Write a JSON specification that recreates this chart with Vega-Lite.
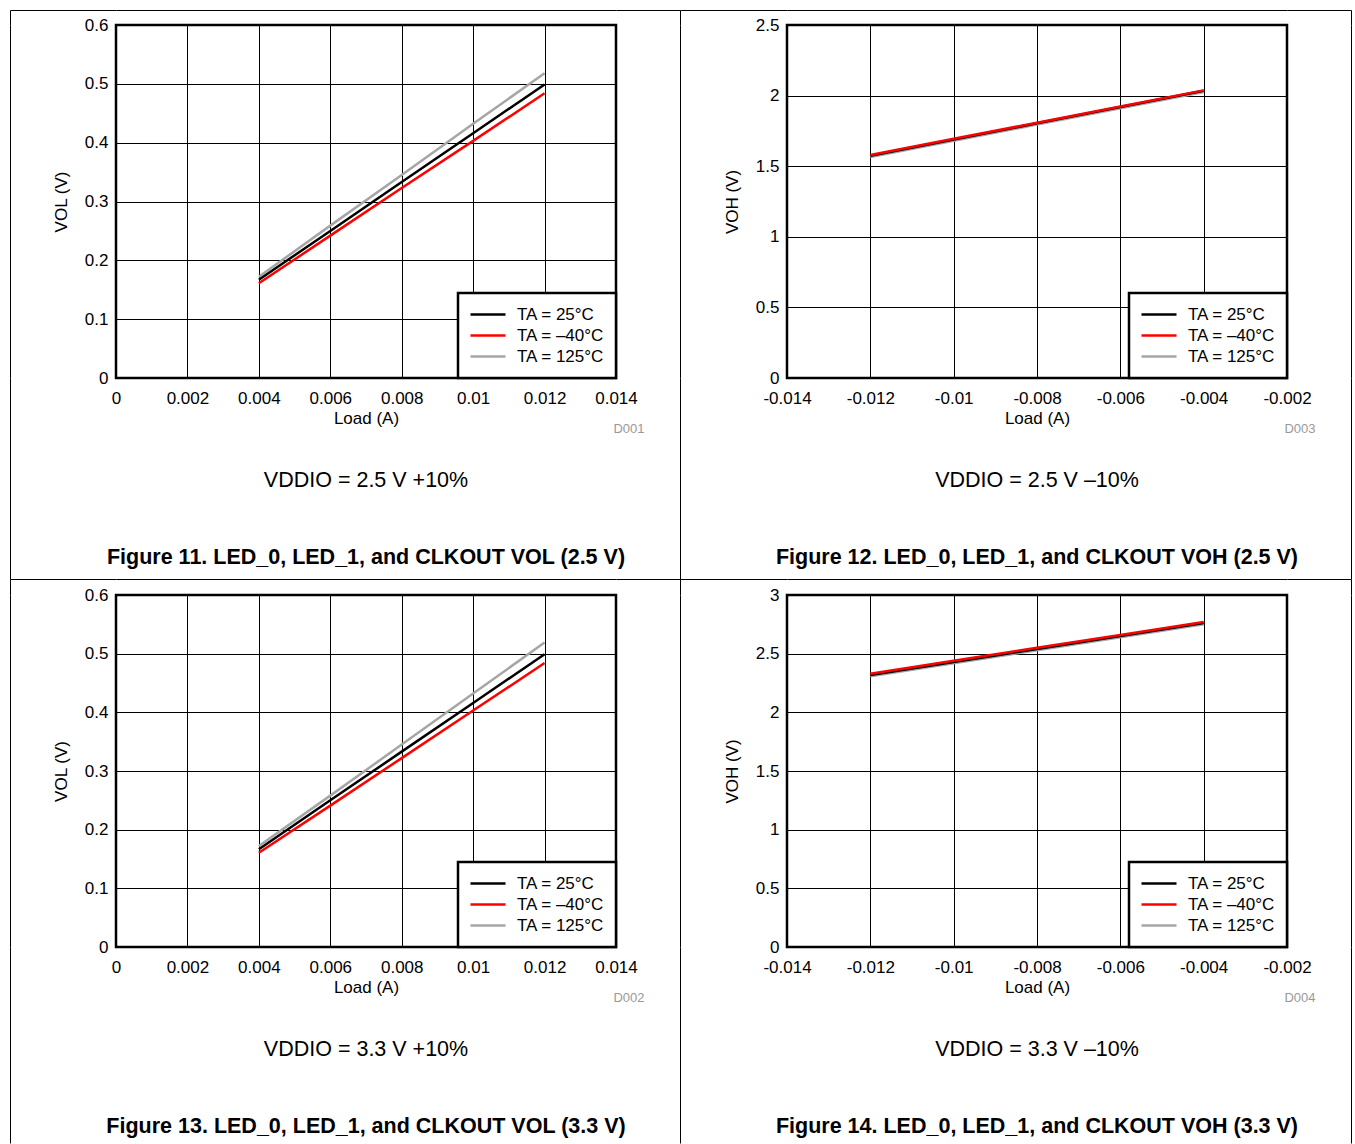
{
"$schema": "https://vega.github.io/schema/vega-lite/v6.json",
"padding": {"left": 9, "top": 9, "right": 2, "bottom": 0},
"background": "white",
"columns": 6,
"spacing": 0,
"bounds": "flush",
"align": "each",
"resolve": {"scale": {"color": "independent"}, "legend": {"color": "independent"}},
"config": {
  "font": "Liberation Sans",
  "view": {"stroke": null},
  "axis": {"labelFont": "Liberation Sans", "labelFontSize": 17, "labelColor": "black", "titleFont": "Liberation Sans", "titleFontSize": 17, "titleFontWeight": "normal", "titleColor": "black", "grid": true, "gridColor": "black", "gridWidth": 1, "gridOpacity": 1, "domain": false, "ticks": false, "labelPadding": 8, "labelFlush": false, "labelOverlap": false},
  "axisX": {"labelPadding": 12},
  "legend": {"orient": "bottom-right", "offset": 0, "labelFont": "Liberation Sans", "labelFontSize": 17, "labelColor": "black", "symbolType": "stroke", "symbolSize": 1225, "symbolStrokeWidth": 2.5, "strokeColor": "black", "strokeWidth": 2.5, "fillColor": "white", "padding": 11, "rowPadding": 0, "clipHeight": 21, "labelOffset": 10},
  "title": {"font": "Liberation Sans", "fontSize": 21.5, "fontWeight": "normal", "color": "black", "subtitleFont": "Liberation Sans", "subtitleFontSize": 21.5, "subtitleFontWeight": "bold", "subtitleColor": "black", "orient": "bottom", "frame": "group", "anchor": "middle", "offset": 35, "subtitlePadding": 55}
},
"concat": [
  {"width": 106, "height": 15, "data": {"values": []}, "mark": {"type": "point", "opacity": 0}, "view": {"stroke": "black", "strokeWidth": 1, "strokeDash": [121, 121], "strokeDashOffset": 15}},
  {"width": 500, "height": 15, "data": {"values": []}, "mark": {"type": "point", "opacity": 0}, "view": {"stroke": "black", "strokeWidth": 1, "strokeDash": [500, 530], "strokeDashOffset": 0}},
  {"width": 64, "height": 15, "data": {"values": []}, "mark": {"type": "point", "opacity": 0}, "view": {"stroke": "black", "strokeWidth": 1, "strokeDash": [64, 94], "strokeDashOffset": 0}},
  {"width": 107, "height": 15, "data": {"values": []}, "mark": {"type": "point", "opacity": 0}, "view": {"stroke": "black", "strokeWidth": 1, "strokeDash": [122, 122], "strokeDashOffset": 15}},
  {"width": 500, "height": 15, "data": {"values": []}, "mark": {"type": "point", "opacity": 0}, "view": {"stroke": "black", "strokeWidth": 1, "strokeDash": [500, 530], "strokeDashOffset": 0}},
  {"width": 64, "height": 15, "data": {"values": []}, "mark": {"type": "point", "opacity": 0}, "view": {"stroke": "black", "strokeWidth": 1, "strokeDash": [79, 79], "strokeDashOffset": 0}},

  {"width": 106, "height": 353, "data": {"values": []}, "mark": {"type": "point", "opacity": 0}, "view": {"stroke": "black", "strokeWidth": 1, "strokeDash": [353, 565], "strokeDashOffset": 353}},
  {
    "width": 500, "height": 353,
    "view": {"stroke": "black", "strokeWidth": 2.5},
    "title": {"text": "VDDIO = 2.5 V +10%", "subtitle": "Figure 11. LED_0, LED_1, and CLKOUT VOL (2.5 V)"},
    "data": {"values": [
      {"temp": "TA = 125°C", "load": 0.004, "v": 0.172}, {"temp": "TA = 125°C", "load": 0.006, "v": 0.259}, {"temp": "TA = 125°C", "load": 0.008, "v": 0.345}, {"temp": "TA = 125°C", "load": 0.010, "v": 0.432}, {"temp": "TA = 125°C", "load": 0.012, "v": 0.518},
      {"temp": "TA = 25°C", "load": 0.004, "v": 0.167}, {"temp": "TA = 25°C", "load": 0.006, "v": 0.250}, {"temp": "TA = 25°C", "load": 0.008, "v": 0.333}, {"temp": "TA = 25°C", "load": 0.010, "v": 0.416}, {"temp": "TA = 25°C", "load": 0.012, "v": 0.499},
      {"temp": "TA = –40°C", "load": 0.004, "v": 0.161}, {"temp": "TA = –40°C", "load": 0.006, "v": 0.242}, {"temp": "TA = –40°C", "load": 0.008, "v": 0.323}, {"temp": "TA = –40°C", "load": 0.010, "v": 0.403}, {"temp": "TA = –40°C", "load": 0.012, "v": 0.484}
    ]},
    "layer": [
      {"mark": {"type": "line", "strokeWidth": 2.5},
       "encoding": {
        "x": {"field": "load", "type": "quantitative", "scale": {"domain": [0, 0.014]}, "axis": {"values": [0, 0.002, 0.004, 0.006, 0.008, 0.01, 0.012, 0.014], "title": "Load (A)", "titlePadding": 4, "labelExpr": "replace(format(datum.value, '~g'), '−', '-')"}},
        "y": {"field": "v", "type": "quantitative", "scale": {"domain": [0, 0.6]}, "axis": {"values": [0, 0.1, 0.2, 0.3, 0.4, 0.5, 0.6], "title": "VOL (V)", "titlePadding": 14, "labelExpr": "format(datum.value, '~g')"}},
        "color": {"field": "temp", "type": "nominal", "scale": {"domain": ["TA = 25°C", "TA = –40°C", "TA = 125°C"], "range": ["#000000", "#ff0000", "#a6a6a6"]}, "legend": {"title": null, "orient": "bottom-right"}}
       }},
      {"mark": {"type": "point", "opacity": 0},
       "encoding": {"x": {"field": "load", "type": "quantitative", "axis": {"orient": "bottom", "title": "D001", "labels": false, "ticks": false, "domain": false, "grid": false, "titleFontSize": 13, "titleColor": "#999999", "titleAlign": "right", "titleX": 528, "titleY": 54, "titleBaseline": "alphabetic"}}}}
    ],
    "resolve": {"axis": {"x": "independent"}}
  },
  {"width": 64, "height": 353, "data": {"values": []}, "mark": {"type": "point", "opacity": 0}},
  {"width": 107, "height": 353, "data": {"values": []}, "mark": {"type": "point", "opacity": 0}, "view": {"stroke": "black", "strokeWidth": 1, "strokeDash": [353, 567], "strokeDashOffset": 353}},
  {
    "width": 500, "height": 353,
    "view": {"stroke": "black", "strokeWidth": 2.5},
    "title": {"text": "VDDIO = 2.5 V –10%", "subtitle": "Figure 12. LED_0, LED_1, and CLKOUT VOH (2.5 V)"},
    "data": {"values": [
      {"temp": "TA = 125°C", "load": -0.012, "v": 1.565}, {"temp": "TA = 125°C", "load": -0.010, "v": 1.680}, {"temp": "TA = 125°C", "load": -0.008, "v": 1.795}, {"temp": "TA = 125°C", "load": -0.006, "v": 1.910}, {"temp": "TA = 125°C", "load": -0.004, "v": 2.025},
      {"temp": "TA = 25°C", "load": -0.012, "v": 1.574}, {"temp": "TA = 25°C", "load": -0.010, "v": 1.689}, {"temp": "TA = 25°C", "load": -0.008, "v": 1.804}, {"temp": "TA = 25°C", "load": -0.006, "v": 1.919}, {"temp": "TA = 25°C", "load": -0.004, "v": 2.034},
      {"temp": "TA = –40°C", "load": -0.012, "v": 1.579}, {"temp": "TA = –40°C", "load": -0.010, "v": 1.694}, {"temp": "TA = –40°C", "load": -0.008, "v": 1.808}, {"temp": "TA = –40°C", "load": -0.006, "v": 1.923}, {"temp": "TA = –40°C", "load": -0.004, "v": 2.037}
    ]},
    "layer": [
      {"mark": {"type": "line", "strokeWidth": 2.5},
       "encoding": {
        "x": {"field": "load", "type": "quantitative", "scale": {"domain": [-0.014, -0.002]}, "axis": {"values": [-0.014, -0.012, -0.01, -0.008, -0.006, -0.004, -0.002], "title": "Load (A)", "titlePadding": 4, "labelExpr": "replace(format(datum.value, '~g'), '−', '-')"}},
        "y": {"field": "v", "type": "quantitative", "scale": {"domain": [0, 2.5]}, "axis": {"values": [0, 0.5, 1, 1.5, 2, 2.5], "title": "VOH (V)", "titlePadding": 14, "labelExpr": "format(datum.value, '~g')"}},
        "color": {"field": "temp", "type": "nominal", "scale": {"domain": ["TA = 25°C", "TA = –40°C", "TA = 125°C"], "range": ["#000000", "#ff0000", "#a6a6a6"]}, "legend": {"title": null, "orient": "bottom-right"}}
       }},
      {"mark": {"type": "point", "opacity": 0},
       "encoding": {"x": {"field": "load", "type": "quantitative", "axis": {"orient": "bottom", "title": "D003", "labels": false, "ticks": false, "domain": false, "grid": false, "titleFontSize": 13, "titleColor": "#999999", "titleAlign": "right", "titleX": 528, "titleY": 54, "titleBaseline": "alphabetic"}}}}
    ],
    "resolve": {"axis": {"x": "independent"}}
  },
  {"width": 64, "height": 353, "data": {"values": []}, "mark": {"type": "point", "opacity": 0}, "view": {"stroke": "black", "strokeWidth": 1, "strokeDash": [353, 481], "strokeDashOffset": 770}},

  {"width": 106, "height": 201, "data": {"values": []}, "mark": {"type": "point", "opacity": 0}, "view": {"stroke": "black", "strokeWidth": 1, "strokeDash": [201, 413], "strokeDashOffset": 201}},
  {"width": 500, "height": 201, "data": {"values": []}, "mark": {"type": "point", "opacity": 0}},
  {"width": 64, "height": 201, "data": {"values": []}, "mark": {"type": "point", "opacity": 0}},
  {"width": 107, "height": 201, "data": {"values": []}, "mark": {"type": "point", "opacity": 0}, "view": {"stroke": "black", "strokeWidth": 1, "strokeDash": [201, 415], "strokeDashOffset": 201}},
  {"width": 500, "height": 201, "data": {"values": []}, "mark": {"type": "point", "opacity": 0}},
  {"width": 64, "height": 201, "data": {"values": []}, "mark": {"type": "point", "opacity": 0}, "view": {"stroke": "black", "strokeWidth": 1, "strokeDash": [201, 329], "strokeDashOffset": 466}},

  {"width": 106, "height": 16, "data": {"values": []}, "mark": {"type": "point", "opacity": 0}, "view": {"stroke": "black", "strokeWidth": 1, "strokeDash": [122, 122], "strokeDashOffset": 16}},
  {"width": 500, "height": 16, "data": {"values": []}, "mark": {"type": "point", "opacity": 0}, "view": {"stroke": "black", "strokeWidth": 1, "strokeDash": [500, 532], "strokeDashOffset": 0}},
  {"width": 64, "height": 16, "data": {"values": []}, "mark": {"type": "point", "opacity": 0}, "view": {"stroke": "black", "strokeWidth": 1, "strokeDash": [64, 96], "strokeDashOffset": 0}},
  {"width": 107, "height": 16, "data": {"values": []}, "mark": {"type": "point", "opacity": 0}, "view": {"stroke": "black", "strokeWidth": 1, "strokeDash": [123, 123], "strokeDashOffset": 16}},
  {"width": 500, "height": 16, "data": {"values": []}, "mark": {"type": "point", "opacity": 0}, "view": {"stroke": "black", "strokeWidth": 1, "strokeDash": [500, 532], "strokeDashOffset": 0}},
  {"width": 64, "height": 16, "data": {"values": []}, "mark": {"type": "point", "opacity": 0}, "view": {"stroke": "black", "strokeWidth": 1, "strokeDash": [80, 80], "strokeDashOffset": 0}},

  {"width": 106, "height": 352, "data": {"values": []}, "mark": {"type": "point", "opacity": 0}, "view": {"stroke": "black", "strokeWidth": 1, "strokeDash": [352, 564], "strokeDashOffset": 352}},
  {
    "width": 500, "height": 352,
    "view": {"stroke": "black", "strokeWidth": 2.5},
    "title": {"text": "VDDIO = 3.3 V +10%", "subtitle": "Figure 13. LED_0, LED_1, and CLKOUT VOL (3.3 V)"},
    "data": {"values": [
      {"temp": "TA = 125°C", "load": 0.004, "v": 0.172}, {"temp": "TA = 125°C", "load": 0.006, "v": 0.258}, {"temp": "TA = 125°C", "load": 0.008, "v": 0.345}, {"temp": "TA = 125°C", "load": 0.010, "v": 0.432}, {"temp": "TA = 125°C", "load": 0.012, "v": 0.519},
      {"temp": "TA = 25°C", "load": 0.004, "v": 0.1665}, {"temp": "TA = 25°C", "load": 0.006, "v": 0.250}, {"temp": "TA = 25°C", "load": 0.008, "v": 0.333}, {"temp": "TA = 25°C", "load": 0.010, "v": 0.416}, {"temp": "TA = 25°C", "load": 0.012, "v": 0.499},
      {"temp": "TA = –40°C", "load": 0.004, "v": 0.1607}, {"temp": "TA = –40°C", "load": 0.006, "v": 0.241}, {"temp": "TA = –40°C", "load": 0.008, "v": 0.322}, {"temp": "TA = –40°C", "load": 0.010, "v": 0.403}, {"temp": "TA = –40°C", "load": 0.012, "v": 0.484}
    ]},
    "layer": [
      {"mark": {"type": "line", "strokeWidth": 2.5},
       "encoding": {
        "x": {"field": "load", "type": "quantitative", "scale": {"domain": [0, 0.014]}, "axis": {"values": [0, 0.002, 0.004, 0.006, 0.008, 0.01, 0.012, 0.014], "title": "Load (A)", "titlePadding": 4, "labelExpr": "replace(format(datum.value, '~g'), '−', '-')"}},
        "y": {"field": "v", "type": "quantitative", "scale": {"domain": [0, 0.6]}, "axis": {"values": [0, 0.1, 0.2, 0.3, 0.4, 0.5, 0.6], "title": "VOL (V)", "titlePadding": 14, "labelExpr": "format(datum.value, '~g')"}},
        "color": {"field": "temp", "type": "nominal", "scale": {"domain": ["TA = 25°C", "TA = –40°C", "TA = 125°C"], "range": ["#000000", "#ff0000", "#a6a6a6"]}, "legend": {"title": null, "orient": "bottom-right"}}
       }},
      {"mark": {"type": "point", "opacity": 0},
       "encoding": {"x": {"field": "load", "type": "quantitative", "axis": {"orient": "bottom", "title": "D002", "labels": false, "ticks": false, "domain": false, "grid": false, "titleFontSize": 13, "titleColor": "#999999", "titleAlign": "right", "titleX": 528, "titleY": 54, "titleBaseline": "alphabetic"}}}}
    ],
    "resolve": {"axis": {"x": "independent"}}
  },
  {"width": 64, "height": 352, "data": {"values": []}, "mark": {"type": "point", "opacity": 0}},
  {"width": 107, "height": 352, "data": {"values": []}, "mark": {"type": "point", "opacity": 0}, "view": {"stroke": "black", "strokeWidth": 1, "strokeDash": [352, 566], "strokeDashOffset": 352}},
  {
    "width": 500, "height": 352,
    "view": {"stroke": "black", "strokeWidth": 2.5},
    "title": {"text": "VDDIO = 3.3 V –10%", "subtitle": "Figure 14. LED_0, LED_1, and CLKOUT VOH (3.3 V)"},
    "data": {"values": [
      {"temp": "TA = 125°C", "load": -0.012, "v": 2.307}, {"temp": "TA = 125°C", "load": -0.010, "v": 2.418}, {"temp": "TA = 125°C", "load": -0.008, "v": 2.529}, {"temp": "TA = 125°C", "load": -0.006, "v": 2.640}, {"temp": "TA = 125°C", "load": -0.004, "v": 2.751},
      {"temp": "TA = 25°C", "load": -0.012, "v": 2.318}, {"temp": "TA = 25°C", "load": -0.010, "v": 2.429}, {"temp": "TA = 25°C", "load": -0.008, "v": 2.540}, {"temp": "TA = 25°C", "load": -0.006, "v": 2.651}, {"temp": "TA = 25°C", "load": -0.004, "v": 2.761},
      {"temp": "TA = –40°C", "load": -0.012, "v": 2.329}, {"temp": "TA = –40°C", "load": -0.010, "v": 2.439}, {"temp": "TA = –40°C", "load": -0.008, "v": 2.550}, {"temp": "TA = –40°C", "load": -0.006, "v": 2.660}, {"temp": "TA = –40°C", "load": -0.004, "v": 2.770}
    ]},
    "layer": [
      {"mark": {"type": "line", "strokeWidth": 2.5},
       "encoding": {
        "x": {"field": "load", "type": "quantitative", "scale": {"domain": [-0.014, -0.002]}, "axis": {"values": [-0.014, -0.012, -0.01, -0.008, -0.006, -0.004, -0.002], "title": "Load (A)", "titlePadding": 4, "labelExpr": "replace(format(datum.value, '~g'), '−', '-')"}},
        "y": {"field": "v", "type": "quantitative", "scale": {"domain": [0, 3]}, "axis": {"values": [0, 0.5, 1, 1.5, 2, 2.5, 3], "title": "VOH (V)", "titlePadding": 14, "labelExpr": "format(datum.value, '~g')"}},
        "color": {"field": "temp", "type": "nominal", "scale": {"domain": ["TA = 25°C", "TA = –40°C", "TA = 125°C"], "range": ["#000000", "#ff0000", "#a6a6a6"]}, "legend": {"title": null, "orient": "bottom-right"}}
       }},
      {"mark": {"type": "point", "opacity": 0},
       "encoding": {"x": {"field": "load", "type": "quantitative", "axis": {"orient": "bottom", "title": "D004", "labels": false, "ticks": false, "domain": false, "grid": false, "titleFontSize": 13, "titleColor": "#999999", "titleAlign": "right", "titleX": 528, "titleY": 54, "titleBaseline": "alphabetic"}}}}
    ],
    "resolve": {"axis": {"x": "independent"}}
  },
  {"width": 64, "height": 352, "data": {"values": []}, "mark": {"type": "point", "opacity": 0}, "view": {"stroke": "black", "strokeWidth": 1, "strokeDash": [352, 480], "strokeDashOffset": 768}},

  {"width": 106, "height": 196, "data": {"values": []}, "mark": {"type": "point", "opacity": 0}, "view": {"stroke": "black", "strokeWidth": 1, "strokeDash": [196, 408], "strokeDashOffset": 196}},
  {"width": 500, "height": 196, "data": {"values": []}, "mark": {"type": "point", "opacity": 0}},
  {"width": 64, "height": 196, "data": {"values": []}, "mark": {"type": "point", "opacity": 0}},
  {"width": 107, "height": 196, "data": {"values": []}, "mark": {"type": "point", "opacity": 0}, "view": {"stroke": "black", "strokeWidth": 1, "strokeDash": [196, 410], "strokeDashOffset": 196}},
  {"width": 500, "height": 196, "data": {"values": []}, "mark": {"type": "point", "opacity": 0}},
  {"width": 64, "height": 196, "data": {"values": []}, "mark": {"type": "point", "opacity": 0}, "view": {"stroke": "black", "strokeWidth": 1, "strokeDash": [196, 324], "strokeDashOffset": 456}}
]
}
